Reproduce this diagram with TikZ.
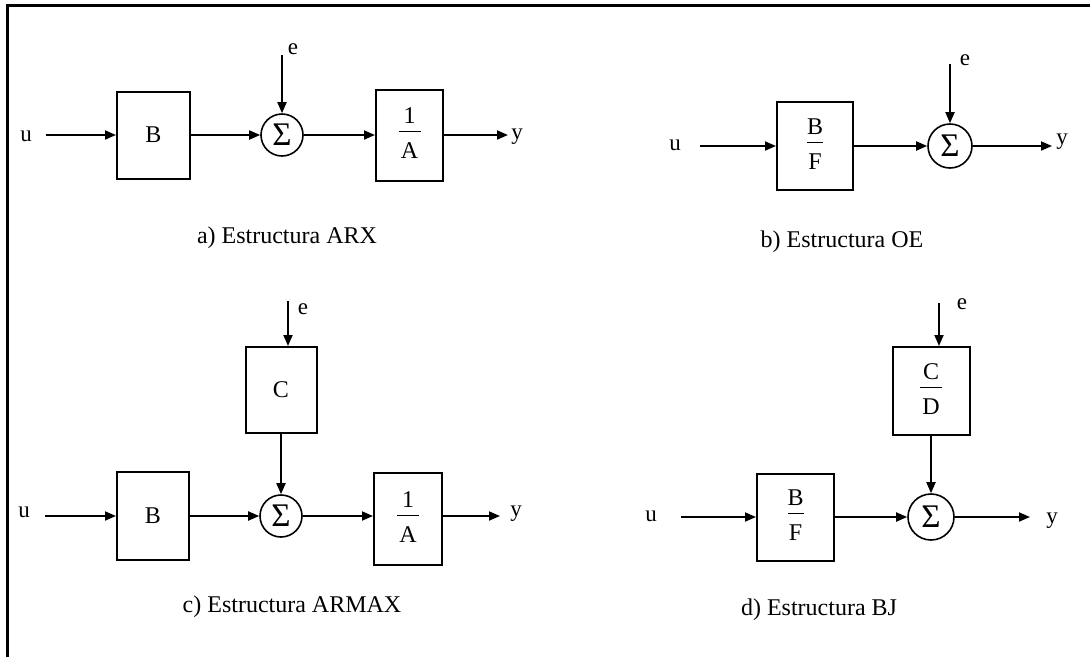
\documentclass[tikz,border=0pt]{standalone}
\usepackage{fontspec}
\setmainfont{Liberation Serif}
\usetikzlibrary{arrows.meta,calc}
\newcommand{\fr}[3]{\begin{tabular}{@{}c@{}}#1\\[-20pt]\rule{#3}{1pt}\\[-3pt]#2\end{tabular}}
\begin{document}
\begin{tikzpicture}[x=1pt,y=-1pt,
  blk/.style={draw,line width=2pt,inner sep=0pt,font=\fontsize{24}{29}\selectfont},
  sumnode/.style={draw,circle,line width=1.6pt,inner sep=0pt,minimum size=42pt,font=\fontsize{33}{33}\selectfont},
  lbl/.style={font=\fontsize{23}{27}\selectfont,inner sep=0pt},
  captxt/.style={font=\fontsize{24}{29}\selectfont,inner sep=0pt},
  sig/.style={line width=1.8pt,-{Triangle[length=11pt,width=9pt]}}
]
\useasboundingbox (0,0) rectangle (1090,657);
\fill[white] (0,0) rectangle (1090,657);
\draw[line width=3pt] (7,657) -- (7,5) -- (1090,5);

% ---------- a) ARX ----------
\node[blk,minimum width=73pt,minimum height=87pt] (Ba) at (153.5,135) {B};
\node[sumnode] (Sa) at (282,135) {Σ};
\node[blk,minimum width=67pt,minimum height=91pt] (Aa) at (409.5,135) {\fr{1}{A}{22pt}};
\node[lbl] (ua) at (26,136) {u};
\node[lbl] (ya) at (517,137) {y};
\node[lbl] (ea) at (293,49) {e};
\coordinate (ua0) at (46,135);
\coordinate (ya0) at (508,135);
\coordinate (ea0) at (282,55);
\draw[sig] (ua0) -- (Ba.west);
\draw[sig] (Ba.east) -- (Sa.west);
\draw[sig] (ea0) -- (Sa.north);
\draw[sig] (Sa.east) -- (Aa.west);
\draw[sig] (Aa.east) -- (ya0);
\node[captxt] (capa) at (287,238) {a) Estructura ARX};

% ---------- b) OE ----------
\node[blk,minimum width=76pt,minimum height=88pt] (BFb) at (815,146) {\fr{B}{F}{16pt}};
\node[sumnode,minimum size=44pt] (Sb) at (950,146) {Σ};
\node[lbl] (ub) at (675,145) {u};
\node[lbl] (yb) at (1062,142) {y};
\node[lbl] (eb) at (965,60) {e};
\coordinate (ub0) at (700,146);
\coordinate (yb0) at (1052,146);
\coordinate (eb0) at (950,64);
\draw[sig] (ub0) -- (BFb.west);
\draw[sig] (BFb.east) -- (Sb.west);
\draw[sig] (eb0) -- (Sb.north);
\draw[sig] (Sb.east) -- (yb0);
\node[captxt] (capb) at (842,242) {b) Estructura OE};

% ---------- c) ARMAX ----------
\node[blk,minimum width=71pt,minimum height=86pt] (Cc) at (281,390) {C};
\node[blk,minimum width=72pt,minimum height=88pt] (Bc) at (153,516) {B};
\node[sumnode] (Sc) at (281,516) {Σ};
\node[blk,minimum width=68pt,minimum height=92pt] (Ac) at (408,519) {\fr{1}{A}{22pt}};
\node[lbl] (uc) at (24,512) {u};
\node[lbl] (yc) at (516,514) {y};
\node[lbl] (ec) at (303,309) {e};
\coordinate (uc0) at (45,516);
\coordinate (yc0) at (500,516);
\coordinate (ec0) at (288,301);
\draw[sig] (uc0) -- (Bc.west);
\draw[sig] (Bc.east) -- (Sc.west);
\draw[sig] (ec0) -- (ec0 |- Cc.north);
\draw[sig] (Cc.south) -- (Sc.north);
\draw[sig] (Sc.east) -- (Ac.west |- Sc.east);
\draw[sig] (Ac.east |- Sc.east) -- (yc0);
\node[captxt] (capc) at (292,607) {c) Estructura ARMAX};

% ---------- d) BJ ----------
\node[blk,minimum width=77pt,minimum height=88pt] (CDd) at (931,391) {\fr{C}{D}{22pt}};
\node[blk,minimum width=77pt,minimum height=87pt] (BFd) at (795.5,517) {\fr{B}{F}{16pt}};
\node[sumnode,minimum size=46pt] (Sd) at (931,517) {Σ};
\node[lbl] (ud) at (651,516) {u};
\node[lbl] (yd) at (1052,521) {y};
\node[lbl] (ed) at (962,304) {e};
\coordinate (ud0) at (681,517);
\coordinate (yd0) at (1030,517);
\coordinate (ed0) at (939,303);
\draw[sig] (ud0) -- (BFd.west);
\draw[sig] (BFd.east) -- (Sd.west);
\draw[sig] (ed0) -- (ed0 |- CDd.north);
\draw[sig] (CDd.south) -- (Sd.north);
\draw[sig] (Sd.east) -- (yd0);
\node[captxt] (capd) at (819,610) {d) Estructura BJ};
\end{tikzpicture}
\end{document}
